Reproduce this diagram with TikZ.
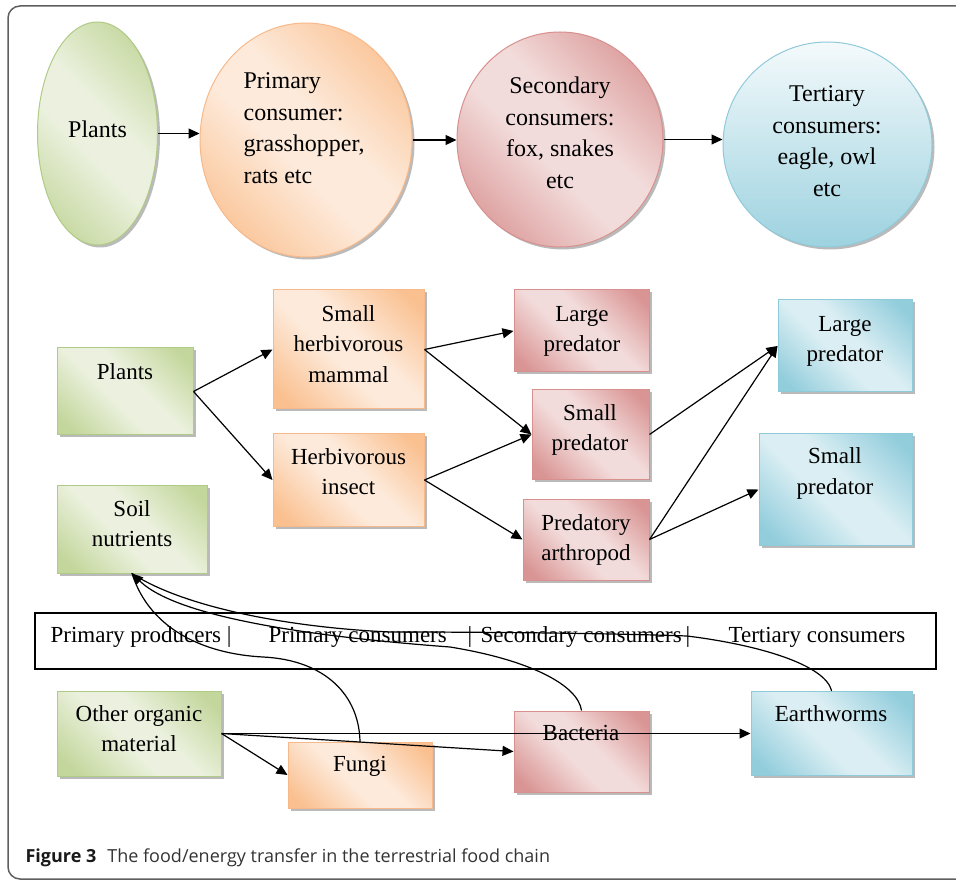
\documentclass[tikz,border=0pt]{standalone}
\usepackage{fontspec}
\setmainfont{Liberation Serif}
\newfontfamily\capfont{Open Sans}
\usetikzlibrary{arrows.meta,shapes.geometric,shadows}

\definecolor{grnD}{HTML}{C3D69B}\definecolor{grnL}{HTML}{EBF1DE}\definecolor{grnB}{HTML}{B0CB85}
\definecolor{orgD}{HTML}{FAC090}\definecolor{orgL}{HTML}{FDEADA}\definecolor{orgB}{HTML}{F8B98A}
\definecolor{redD}{HTML}{D99594}\definecolor{redL}{HTML}{F2DCDB}\definecolor{redB}{HTML}{D8908F}
\definecolor{bluD}{HTML}{92CDDC}\definecolor{bluL}{HTML}{DAEEF3}\definecolor{bluB}{HTML}{8FCADB}
\definecolor{framec}{HTML}{5F5F5F}\definecolor{capc}{HTML}{333333}

\pgfdeclarehorizontalshading{grnshade}{100bp}{color(0bp)=(grnD); color(20bp)=(grnD); color(44bp)=(grnL); color(56bp)=(grnL); color(80bp)=(grnD); color(100bp)=(grnD)}
\pgfdeclarehorizontalshading{orgshade}{100bp}{color(0bp)=(orgD); color(20bp)=(orgD); color(44bp)=(orgL); color(56bp)=(orgL); color(80bp)=(orgD); color(100bp)=(orgD)}
\pgfdeclarehorizontalshading{redshade}{100bp}{color(0bp)=(redD); color(20bp)=(redD); color(44bp)=(redL); color(56bp)=(redL); color(80bp)=(redD); color(100bp)=(redD)}
\pgfdeclarehorizontalshading{blushade}{100bp}{color(0bp)=(bluD); color(20bp)=(bluD); color(44bp)=(bluL); color(56bp)=(bluL); color(80bp)=(bluD); color(100bp)=(bluD)}

\newcommand\circfont{\fontsize{24}{31.7}\selectfont}
\newcommand\cellfont{\fontsize{23}{30.4}\selectfont}

\begin{document}
\begin{tikzpicture}[x=1pt,y=-1pt,line width=1.2pt,
  softshadow/.style={drop shadow={shadow xshift=2.5pt,shadow yshift=-2.5pt,fill=black!45,opacity=.6}},
  blk/.style={rectangle,line width=1pt,inner sep=0pt,shading angle=45,softshadow},
  grnbox/.style={blk,draw=grnB,shading=grnshade},
  orgbox/.style={blk,draw=orgB,shading=orgshade},
  redbox/.style={blk,draw=redB,shading=redshade},
  blubox/.style={blk,draw=bluB,shading=blushade},
  oval/.style={ellipse,line width=1pt,inner sep=0pt,shading angle=45,softshadow},
  txt/.style={font=\cellfont,align=center,inner sep=0pt,anchor=north},
  ctxt/.style={font=\circfont,align=center,inner sep=0pt,anchor=north},
  bandtxt/.style={font=\cellfont,inner sep=0pt,anchor=base west},
  flow/.style={-{Triangle[length=11pt,width=10pt]}},
  back/.style={line cap=round}]
\useasboundingbox (0,0) rectangle (956,882);
\clip (0,0) rectangle (956,882);
\draw[framec,line width=1.5pt,rounded corners=12pt] (8,6) rectangle (990,879);

% top chain
\node[oval,draw=grnB,shading=grnshade,minimum width=120,minimum height=223] (plantsE) at (97.5,133.5) {};
\node[oval,draw=orgB,shading=orgshade,minimum width=212,minimum height=234] (primary) at (306,140) {};
\node[oval,draw=redB,shading=redshade,minimum width=206,minimum height=215] (secondary) at (560,139.5) {};
\node[oval,draw=bluB,top color=bluL!30!white,bottom color=bluD!90!white,shading angle=0,minimum width=209,minimum height=205] (tertiary) at (827.5,144.5) {};
\node[ctxt] (tPlantsE) at (97.5,114.8) {\strut Plants};
\node[ctxt,align=left,anchor=north west] (tPrimary) at (243,65.8) {\strut Primary\\consumer:\\grasshopper,\\rats etc};
\node[ctxt] (tSecondary) at (560,70.8) {\strut Secondary\\consumers:\\fox, snakes\\etc};
\node[ctxt] (tTertiary) at (827,78.8) {\strut Tertiary\\consumers:\\eagle, owl\\etc};
\draw[flow] (plantsE.east) -- (plantsE.east -| primary.west);
\draw[flow] (primary.east) -- (primary.east -| secondary.west);
\draw[flow] (secondary.east) -- (secondary.east -| tertiary.west);

% food web
\node[grnbox,minimum width=136,minimum height=87] (plantsB) at (125,391.5) {};
\node[grnbox,minimum width=150,minimum height=88] (soil) at (132,529) {};
\node[orgbox,minimum width=151,minimum height=119] (shm) at (348.5,349.5) {};
\node[orgbox,minimum width=151,minimum height=92] (hi) at (348.5,480) {};
\node[redbox,minimum width=135,minimum height=82] (lpr) at (581.5,331) {};
\node[redbox,minimum width=117,minimum height=89] (spr) at (590.5,434.5) {};
\node[redbox,minimum width=126,minimum height=81] (pa) at (586,539.5) {};
\node[blubox,minimum width=134,minimum height=92] (lpb) at (845,346) {};
\node[blubox,minimum width=153,minimum height=111] (spb) at (835.5,489.5) {};
\node[txt] (tPlantsB) at (125,357.7) {\strut Plants};
\node[txt] (tSoil) at (132,494.7) {\strut Soil\\nutrients};
\node[txt] (tShm) at (348.5,299.4) {\strut Small\\herbivorous\\mammal};
\node[txt] (tHi) at (348.5,442.7) {\strut Herbivorous\\insect};
\node[txt] (tLpr) at (582,299.4) {\strut Large\\predator};
\node[txt] (tSpr) at (590,398.7) {\strut Small\\predator};
\node[txt] (tPa) at (586,508.7) {\strut Predatory\\arthropod};
\node[txt] (tLpb) at (845,309.4) {\strut Large\\predator};
\node[txt] (tSpb) at (835,442) {\strut Small\\predator};
\draw[flow] (plantsB.east) -- (shm.west);
\draw[flow] (plantsB.east) -- (hi.west);
\draw[flow] (shm.east) -- (lpr.west);
\draw[flow] (shm.east) -- (spr.west);
\draw[flow] (hi.east) -- (spr.west);
\draw[flow] (hi.east) -- (pa.west);
\draw[flow] (spr.east) -- (lpb.west);
\draw[flow] (pa.east) -- (lpb.west);
\draw[flow] (pa.east) -- (spb.west);

% trophic levels
\node[draw,line width=1.3pt,inner sep=0pt,minimum width=901,minimum height=56] (band) at (485.5,641) {};
\node[bandtxt] (bandPP) at (50,642) {Primary producers |};
\node[bandtxt] (bandPC) at (268,642) {Primary consumers};
\node[bandtxt,anchor=base] (barA) at (470,642) {|};
\node[bandtxt] (bandSC) at (480,642) {Secondary consumers};
\node[bandtxt,anchor=base] (barB) at (688,642) {|};
\node[bandtxt] (bandTC) at (728,642) {Tertiary consumers};

% decomposers
\node[grnbox,minimum width=164,minimum height=85] (oom) at (139,733.5) {};
\node[orgbox,minimum width=144,minimum height=66] (fungi) at (360,775) {};
\node[redbox,minimum width=135,minimum height=81] (bact) at (581.5,751.5) {};
\node[blubox,minimum width=161,minimum height=84] (earth) at (831.5,733) {};
\node[txt] (tOom) at (139,699.4) {\strut Other organic\\material};
\node[txt] (tFungi) at (360,749.7) {\strut Fungi};
\node[txt] (tBact) at (581,718.7) {\strut Bacteria};
\node[txt] (tEarth) at (831,699.4) {\strut Earthworms};
\draw[flow] (oom.east) -- (fungi.west);
\draw[flow] (oom.east) -- (bact.west);
\draw[flow] (oom.east) -- (oom.east -| earth.west);
\draw[back] (fungi.north) .. controls (359,695) and (325,660) .. (263,657) .. controls (205,654) and (150,630) .. (soil.south);
\draw[back] (earth.north) .. controls (825,665) and (760,645) .. (687,636) .. controls (600,633) and (480,632) .. (390,632) .. controls (280,627) and (180,605) .. (soil.south);
\draw[flow] (bact.north) .. controls (578,685) and (530,660) .. (450,647) .. controls (330,638) and (180,620) .. (soil.south);

\node[font=\capfont\fontsize{18}{21}\selectfont,text=capc,anchor=base west,inner sep=0pt] (caption) at (25,862) {\textcolor{black!90}{\bfseries Figure 3}\hspace{11pt}The food/energy transfer in the terrestrial food chain};
\end{tikzpicture}
\end{document}
